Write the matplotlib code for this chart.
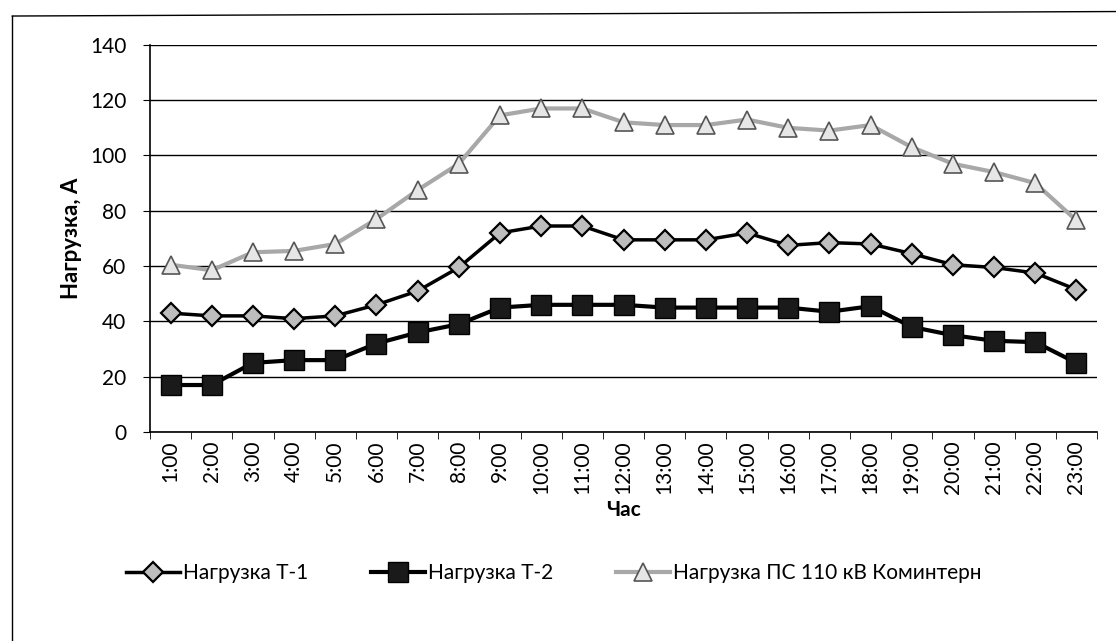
import numpy as np
import matplotlib.pyplot as plt
from matplotlib.lines import Line2D

plt.rcParams['font.family'] = ['Lato', 'DejaVu Sans']

hours = [f"{h}:00" for h in range(1, 24)]

load_t1 = [43, 42, 42, 41, 42, 46, 51, 59.5, 72, 74.5, 74.5, 69.5, 69.5, 69.5,
           72, 67.5, 68.5, 68, 64.5, 60.5, 59.5, 57.5, 51.5]
load_t2 = [17, 17, 25, 26, 26, 32, 36, 39, 45, 46, 46, 46, 45, 45,
           45, 45, 43.5, 45.5, 38, 35, 33, 32.5, 25]
load_ps = [60.5, 58.5, 65, 65.5, 68, 77, 87.5, 97, 114.5, 117, 117, 112, 111, 111,
           113, 110, 109, 111, 103, 97, 94, 90, 76.5]

fig = plt.figure(figsize=(11.16, 6.41), dpi=100)
ax = fig.add_axes([0.1344, 0.326, 0.8486, 0.604])

x = np.arange(len(hours))

ax.plot(x, load_t1, color='black', lw=2.5, marker='D', ms=10,
        mfc='#bdbdbd', mec='black', mew=1.6, label='Нагрузка Т-1', zorder=4)
ax.plot(x, load_t2, color='black', lw=3, marker='s', ms=14,
        mfc='#1a1a1a', mec='black', label='Нагрузка Т-2', zorder=4)
ax.plot(x, load_ps, color='#a8a8a8', lw=3, marker='^', ms=13,
        mfc='#e6e6e6', mec='#555555', mew=1.2, label='Нагрузка ПС 110 кВ Коминтерн', zorder=3)

ax.set_xlim(-0.5, len(hours) - 0.5)
ax.set_ylim(0, 140)
ax.set_yticks(np.arange(0, 141, 20))
ax.set_xticks(x)
ax.set_xticklabels(hours, rotation=90, fontsize=15)
ax.set_xticks(np.arange(-0.5, len(hours)), minor=True)
ax.tick_params(axis='x', which='major', length=0, pad=6)
ax.tick_params(axis='x', which='minor', length=5, direction='out')
ax.tick_params(axis='y', labelsize=15, length=5, direction='out', pad=12)

ax.grid(axis='y', color='black', lw=1)
ax.set_axisbelow(True)
for side in ['top', 'right']:
    ax.spines[side].set_visible(False)
ax.spines['left'].set_linewidth(1.2)
ax.spines['bottom'].set_linewidth(1.2)

ax.set_ylabel('Нагрузка, А', fontsize=16, fontweight='bold', labelpad=6)
ax.set_xlabel('Час', fontsize=15, fontweight='bold', labelpad=4)

fig.legend(loc='center', bbox_to_anchor=(0.496, 0.106), ncol=3, frameon=False,
           fontsize=15, handlelength=2.6, handletextpad=0.15, columnspacing=3.0)

# scanned frame: left and top edges only
fig.add_artist(Line2D([0.011, 0.011], [0.0, 0.975], transform=fig.transFigure,
                      color='black', lw=1))
fig.add_artist(Line2D([0.011, 1.0], [0.975, 0.982], transform=fig.transFigure,
                      color='black', lw=1))

fig.savefig('out.png', dpi=100)
